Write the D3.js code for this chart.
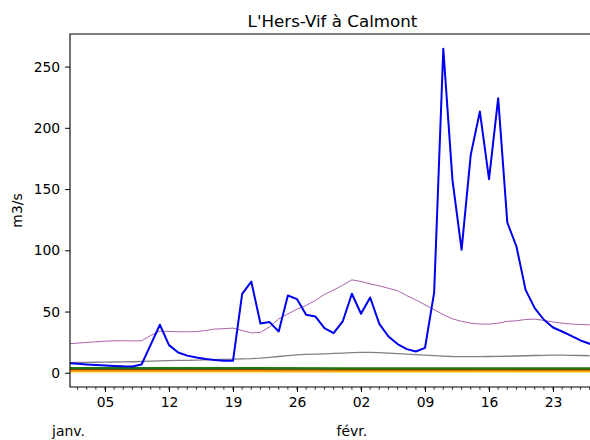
<!DOCTYPE html>
<html>
<head>
<meta charset="utf-8">
<script src="https://cdn.jsdelivr.net/npm/d3@7"></script>
<style>
  body { margin: 0; background: #fff; }
  text { font-family: "DejaVu Sans", sans-serif; fill: #000; }
</style>
</head>
<body>
<div class="visHolder"></div>
<script>

// daily series, Jan 1 -> Feb 28
let startDay = '2015-01-01';
let flowBlue = [7.9, 7.3, 6.8, 6.3, 5.9, 5.6, 5.3, 5.2, 6.8, 23, 39.2, 22.6, 16.6, 14, 12.5, 11.3, 10.5, 9.8, 9.8, 64.5,
                74.5, 40.3, 41.4, 33.7, 63.1, 60.1, 47.3, 46, 36.5, 32.4, 41.9,
                64.5, 48.2, 61.5, 40, 29.6, 23.5, 19.3, 17.4, 20.4, 65.7, 264.5, 157.5, 100.4, 177.9, 213.3, 158.1, 224.2, 122.7, 103.1,
                67.7, 52.8, 43.3, 37, 33.7, 30.2, 26.4, 23.7, 22];
let flowPurple = [23.6, 24.2, 24.8, 25.3, 25.8, 26.1, 26.2, 26.0, 26.1, 30.5, 34, 33.8, 33.5, 33.5, 33.6, 34.5, 35.7, 36, 36.5, 34.5,
                  32.6, 33, 37.5, 44, 48, 52, 55, 59, 64, 67.5, 71.5,
                  75.9, 74.5, 72.5, 71, 69, 67, 63, 59.5, 55.5, 51.5, 47.5, 44, 42, 40.5, 39.8, 39.7, 40.5, 42, 42.5,
                  43.5, 43.8, 42.8, 41.5, 40.5, 39.8, 39.4, 39.2, 39];
let flowGray = [8.3, 8.4, 8.5, 8.6, 8.7, 8.8, 8.9, 9.0, 9.2, 9.5, 9.8, 10.0, 10.1, 10.2, 10.4, 10.6, 10.8, 11.0, 11.2, 11.4,
                11.6, 12.0, 12.6, 13.3, 14.0, 14.6, 15.0, 15.2, 15.5, 15.8, 16.1,
                16.4, 16.6, 16.6, 16.4, 16.1, 15.7, 15.3, 14.9, 14.5, 14.0, 13.6, 13.3, 13.2, 13.2, 13.2, 13.3, 13.4, 13.5, 13.7,
                13.9, 14.1, 14.3, 14.4, 14.4, 14.3, 14.1, 13.9];

// low-flow reference lines (nearly flat)
let lowDates = ['2015-01-01', '2015-01-15', '2015-02-01', '2015-02-15', '2015-02-28'];
let lowGreen = [3.9, 3.9, 3.8, 3.8, 3.8];
let lowBrown = [2.9, 2.9, 2.8, 2.8, 2.8];
let lowOrange = [1.8, 1.8, 1.8, 1.9, 1.8];
let lowGold = [1.0, 1.0, 1.0, 1.0, 1.0];

let yTicks = [0, 50, 100, 150, 200, 250];
let monthLabels = [['2015-01-01', 'janv.'], ['2015-02-01', 'févr.']];
let title = "L'Hers-Vif à Calmont";

let width = 590;
let height = 440;
let padLeft = 70, padRight = 595, padTop = 34, padBottom = 387;

let svg = d3.select('.visHolder').append('svg');
let parse = d3.timeParse('%Y-%m-%d');
let xScale, yScale;

function drawCanvas() {
  svg.attr('width', width).attr('height', height).style('display', 'block');
  svg.append('defs').append('clipPath').attr('id', 'plot')
     .append('rect').attr('x', padLeft).attr('y', padTop)
     .attr('width', padRight - padLeft).attr('height', padBottom - padTop);
}

function generateScales() {
  xScale = d3.scaleTime()
             .domain([new Date(2015, 0, 1, 4, 7), new Date(2015, 1, 27, 14, 10)])
             .range([padLeft, padRight]);
  yScale = d3.scaleLinear()
             .domain([-11.6, 276.6])
             .range([padBottom, padTop]);
}

function dailyPoints(values) {
  let d0 = parse(startDay);
  return values.map((v, i) => [d3.timeDay.offset(d0, i), v]);
}

function drawLine(points, color, lw) {
  let line = d3.line().x(d => xScale(d[0])).y(d => yScale(d[1]));
  svg.append('path')
     .datum(points)
     .attr('clip-path', 'url(#plot)')
     .attr('fill', 'none')
     .attr('stroke', color)
     .attr('stroke-width', lw)
     .attr('stroke-linejoin', 'round')
     .attr('d', line);
}

function generateLines() {
  let lowPts = (vals) => lowDates.map((d, i) => [parse(d), vals[i]]);
  drawLine(lowPts(lowGold), '#f0c419', 2);
  drawLine(lowPts(lowOrange), '#ff8c00', 1.6);
  drawLine(lowPts(lowBrown), '#6b4a00', 1.6);
  drawLine(lowPts(lowGreen), '#1f7a12', 2);
  drawLine(dailyPoints(flowGray), '#808080', 1.3);
  drawLine(dailyPoints(flowPurple), '#a050a0', 0.9);
  drawLine(dailyPoints(flowBlue), '#0000ee', 2);
}

function generateAxes() {
  let xAxis = d3.axisBottom(xScale)
                .ticks(d3.timeMonday.every(1))
                .tickFormat(d3.timeFormat('%d'))
                .tickSize(4.9).tickPadding(4.9);
  let gx = svg.append('g')
              .attr('transform', 'translate(0,' + padBottom + ')')
              .call(xAxis);
  gx.select('.domain').remove();
  gx.selectAll('text').style('font-size', '13.9px').style('font-family', 'DejaVu Sans');

  // minor day ticks
  svg.append('g').selectAll('line')
     .data(d3.timeDay.range(xScale.domain()[0], xScale.domain()[1]))
     .join('line')
     .attr('x1', d => xScale(d)).attr('x2', d => xScale(d))
     .attr('y1', padBottom).attr('y2', padBottom + 2.8)
     .attr('stroke', '#000').attr('stroke-width', 0.8);

  svg.selectAll('.month')
     .data(monthLabels)
     .join('text')
     .attr('class', 'month')
     .attr('x', d => xScale(parse(d[0])))
     .attr('y', 436)
     .attr('text-anchor', 'middle')
     .style('font-size', '13.9px')
     .text(d => d[1]);

  let yAxis = d3.axisLeft(yScale).tickValues(yTicks).tickSize(4.9).tickPadding(4.9);
  let gy = svg.append('g')
              .attr('transform', 'translate(' + padLeft + ',0)')
              .call(yAxis);
  gy.select('.domain').remove();
  gy.selectAll('text').style('font-size', '13.9px').style('font-family', 'DejaVu Sans');

  // spines: left, top, bottom
  svg.append('path')
     .attr('d', `M${padRight},${padTop}H${padLeft}V${padBottom}H${padRight}`)
     .attr('fill', 'none').attr('stroke', '#000').attr('stroke-width', 1.1);

  svg.append('text')
     .attr('x', (padLeft + padRight) / 2).attr('y', 27)
     .attr('text-anchor', 'middle')
     .style('font-size', '16.7px')
     .text(title);

  svg.append('text')
     .attr('transform', 'translate(22,' + (padTop + padBottom) / 2 + ') rotate(-90)')
     .attr('text-anchor', 'middle')
     .style('font-size', '13.9px')
     .text('m3/s');
}

drawCanvas();
generateScales();
generateLines();
generateAxes();
</script>
</body>
</html>
